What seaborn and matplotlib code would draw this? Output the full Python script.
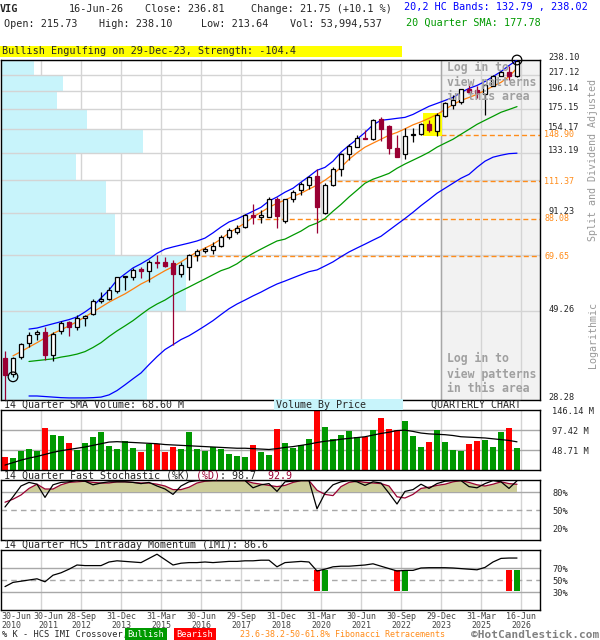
import matplotlib
matplotlib.use("Agg")
import matplotlib.pyplot as plt
from matplotlib.ticker import NullLocator, NullFormatter
from matplotlib.transforms import ScaledTranslation
import numpy as np
import seaborn as sns

# quarterly candles, 30-Jun-2010 .. 16-Jun-2026 (split and dividend adjusted)
opens = [36.8, 33.3, 37.0, 40.4, 42.8, 43.2, 37.6, 43.5, 46.0, 44.7,
         47.4, 48.4, 52.5, 53.3, 56.0, 61.0, 61.2, 64.2, 63.4, 67.3,
         67.3, 66.6, 62.3, 65.0, 70.1, 71.8, 72.4, 74.2, 78.4, 81.2,
         83.4, 90.3, 89.0, 89.3, 99.9, 87.0, 99.9, 105.7, 109.1, 114.8,
         91.1, 108.5, 120.6, 132.3, 138.2, 146.5, 145.2, 164.7, 157.2, 137.5,
         131.8, 148.6, 149.6, 159.3, 152.3, 167.4, 179.2, 182.5, 198.7, 197.0,
         192.9, 202.9, 215.7, 220.3, 215.73]
highs = [38.4, 37.1, 40.5, 43.3, 43.8, 44.6, 43.2, 46.3, 46.3, 48.3,
         48.3, 53.1, 55.7, 57.5, 61.2, 61.5, 64.6, 65.2, 68.0, 70.1,
         69.3, 68.0, 67.3, 70.8, 72.9, 73.6, 76.0, 79.5, 82.9, 84.8,
         90.9, 96.3, 93.3, 100.6, 101.0, 99.9, 105.3, 110.8, 115.4, 119.9,
         109.9, 121.8, 132.6, 140.5, 148.6, 154.0, 164.7, 166.4, 158.9, 148.6,
         155.1, 155.1, 160.0, 163.0, 171.1, 183.5, 190.7, 198.7, 205.1, 202.9,
         205.1, 216.6, 222.7, 228.9, 238.10]
lows = [28.28, 32.7, 36.6, 39.5, 41.3, 36.4, 36.0, 42.7, 42.2, 43.9,
        44.9, 48.3, 52.0, 52.9, 55.4, 56.3, 60.0, 60.7, 59.4, 64.6,
        65.2, 40.0, 61.2, 59.8, 67.7, 71.2, 70.4, 73.9, 77.4, 80.0,
        83.2, 85.2, 85.7, 88.8, 82.9, 85.5, 97.9, 102.0, 106.4, 80.4,
        90.9, 108.2, 115.4, 127.6, 137.7, 144.7, 144.0, 143.1, 131.8, 129.4,
        127.9, 142.0, 148.6, 151.7, 147.5, 166.4, 174.7, 180.9, 194.0, 188.2,
        168.8, 202.0, 214.8, 209.5, 213.64]
closes = [33.0, 36.8, 40.2, 42.6, 43.2, 37.6, 42.7, 45.8, 44.7, 47.3,
          47.8, 52.5, 53.2, 56.3, 61.0, 61.2, 64.0, 63.4, 67.3, 66.6,
          65.6, 62.3, 65.9, 70.1, 72.0, 72.9, 74.2, 78.4, 82.1, 82.9,
          90.3, 89.0, 90.3, 99.4, 89.4, 99.4, 104.2, 109.3, 114.3, 94.9,
          108.7, 119.9, 131.8, 138.8, 145.6, 145.2, 163.0, 154.4, 137.2, 130.0,
          147.7, 150.2, 159.0, 153.3, 169.0, 181.7, 185.3, 198.0, 194.6, 193.9,
          204.1, 215.0, 220.3, 215.06, 236.81]

volume_m = [32.5, 30.0, 46.3, 51.1, 46.3, 102.3, 85.2, 82.8, 65.8, 47.9,
            65.8, 80.4, 92.6, 58.5, 51.1, 70.6, 54.4, 43.8, 63.3, 64.1,
            43.8, 56.0, 51.1, 92.6, 51.1, 47.1, 55.2, 51.1, 39.0, 34.1,
            31.7, 60.9, 43.8, 36.5, 99.9, 65.8, 52.8, 60.9, 76.3, 146.14,
            104.7, 75.5, 85.2, 95.0, 80.4, 80.4, 98.2, 126.7, 99.9, 96.6,
            119.3, 82.8, 56.0, 68.2, 98.2, 68.2, 48.7, 47.1, 63.3, 70.6,
            73.1, 56.0, 92.6, 102.3, 54.0]
vol_sma_m = [12, 18, 24, 29, 33, 38, 43, 47, 50, 53,
             56, 60, 64, 68, 69, 68, 67, 66, 65, 64,
             62, 61, 60, 59, 58, 57, 56, 55, 54, 53,
             53, 52, 51, 50, 52, 55, 57, 60, 63, 67,
             70, 72, 75, 77, 79, 81, 85, 89, 92, 96,
             97, 94, 90, 88, 87, 86, 84, 81, 80, 79,
             78, 76, 74, 72, 68.6]

# 20,2 HC bands and 20 quarter SMA start at the 4th quarter
band_start = 3
band_upper = [44.1, 44.4, 45.0, 45.6, 46.2, 46.8, 47.6, 49.1, 50.9, 53.6,
              56.3, 60.0, 62.3, 64.7, 66.4, 68.4, 70.9, 72.8, 73.8, 74.7,
              75.6, 76.6, 78.0, 80.6, 83.6, 86.3, 87.9, 90.1, 92.3, 94.6,
              98.4, 100.9, 104.0, 106.6, 110.7, 114.8, 119.3, 121.5, 126.3, 133.6,
              139.4, 144.9, 151.2, 158.6, 163.2, 164.1, 165.2, 166.2, 169.3, 173.7,
              178.1, 181.4, 184.8, 188.3, 194.3, 199.3, 203.0, 208.1, 214.6, 221.5,
              230.0, 238.02]
band_lower = [29.0, 29.0, 28.9, 28.8, 28.7, 28.65, 28.65, 28.65, 28.7, 28.8,
              29.2, 30.0, 31.1, 32.3, 33.5, 35.3, 37.1, 38.8, 40.0, 41.3,
              42.3, 43.6, 45.0, 46.5, 48.3, 50.1, 51.6, 52.9, 54.3, 55.6,
              57.1, 58.5, 59.6, 60.8, 62.0, 63.2, 63.9, 65.5, 67.2, 69.4,
              71.5, 73.3, 75.1, 77.0, 78.9, 81.9, 85.0, 88.2, 91.7, 95.6,
              99.3, 103.3, 106.6, 110.0, 113.5, 116.3, 121.5, 126.3, 129.5, 131.1,
              132.4, 132.79]
sma20 = [36.0, 36.2, 36.4, 36.6, 37.0, 37.3, 37.7, 38.3, 39.3, 40.5,
         42.1, 43.6, 45.0, 46.5, 48.3, 50.1, 51.6, 52.9, 54.6, 56.0,
         57.4, 58.9, 60.4, 62.0, 63.6, 64.7, 66.4, 68.8, 70.9, 72.8,
         74.7, 76.6, 77.5, 79.5, 81.5, 84.1, 85.7, 88.2, 92.3, 96.3,
         100.9, 105.3, 110.0, 112.8, 114.8, 117.0, 120.8, 124.1, 127.1, 130.2,
         133.6, 137.9, 141.4, 144.9, 149.5, 154.2, 159.1, 163.2, 167.3, 171.6,
         174.6, 177.78]
# short average (orange) starts at the 2nd quarter
ma_start = 1
ma_short = [37.3, 38.3, 39.4, 40.5, 41.7, 42.9, 43.9, 45.0, 46.2, 47.6,
            49.1, 50.6, 52.2, 53.6, 55.0, 56.7, 58.5, 60.0, 61.8, 63.6,
            65.2, 67.2, 69.4, 71.5, 73.3, 75.1, 77.5, 80.6, 83.1, 85.7,
            89.0, 91.7, 94.6, 97.0, 99.0, 101.3, 103.3, 106.0, 108.7, 112.1,
            116.3, 121.5, 127.8, 133.1, 137.9, 141.4, 144.9, 148.6, 151.2, 154.7,
            158.6, 161.6, 165.2, 169.3, 174.6, 180.1, 184.8, 188.3, 192.0, 196.8,
            201.9, 207.0, 214.6, 226.5]

stoch_k = [55, 72, 90, 96, 93, 71, 92, 96, 97, 99,
           98, 92, 95, 97, 97, 97, 96, 94, 96, 90,
           85, 76, 90, 97, 99, 99, 99, 99, 99, 99,
           99, 87, 92, 94, 81, 97, 98, 99, 99, 52,
           78, 92, 97, 99, 97, 91, 97, 95, 78, 60,
           81, 84, 93, 86, 94, 98, 99, 99, 89, 87,
           94, 99, 97, 86, 98.7]
stoch_d = [63, 68, 75, 86, 93, 85, 85, 92, 96, 97,
           98, 96, 95, 95, 97, 97, 96, 95, 95, 93,
           90, 84, 84, 88, 95, 98, 99, 99, 99, 99,
           99, 95, 93, 91, 89, 91, 96, 99, 99, 83,
           76, 74, 89, 96, 98, 96, 95, 94, 90, 72,
           70, 76, 86, 88, 91, 93, 97, 99, 96, 92,
           90, 93, 97, 94, 92.9]
imi = [39, 46, 48, 50, 52, 47, 58, 62, 68, 75,
       74, 74, 74, 80, 82, 81, 80, 79, 86, 93,
       84, 75, 78, 79, 79, 80, 79, 80, 81, 81,
       82, 82, 83, 83, 72, 79, 80, 81, 80, 65,
       68, 72, 73, 73, 74, 75, 77, 73, 69, 65,
       66, 66, 70, 70.5, 70.5, 70.5, 70, 69, 68, 67,
       71, 80, 86, 86.6, 86.6]
imi_cross_q = [39, 40, 49, 50, 63, 64]
imi_cross_kind = ['bear', 'bull', 'bear', 'bull', 'bear', 'bull']

price_levels = [28.28, 49.26, 70.25, 91.23, 112.21, 133.19, 154.17, 175.15, 196.14, 217.12, 238.10]
price_labels = ['28.28', '49.26', '', '91.23', '', '133.19', '154.17', '175.15', '196.14', '217.12', '238.10']
# volume by price, one value per band between price levels (bottom to top), relative
vbp_rel = [78.9, 100.0, 61.6, 56.8, 40.5, 76.8, 46.5, 30.3, 33.5, 17.8]

fib_levels = [69.65, 88.08, 111.37, 148.90]
fib_start_q = [23.5, 31.5, 40.5, 54.5]
pattern_q = [53, 54]
login_from_q = 54.5

tick_q = [0, 4, 9, 14, 19, 24, 29, 34, 39, 44, 49, 54, 59, 64]
tick_labels = ['30-Jun\n2010', '30-Jun\n2011', '28-Sep\n2012', '31-Dec\n2013', '31-Mar\n2015',
               '30-Jun\n2016', '29-Sep\n2017', '31-Dec\n2018', '31-Mar\n2020', '30-Jun\n2021',
               '30-Sep\n2022', '29-Dec\n2023', '31-Mar\n2025', '16-Jun\n2026']

# ---------------------------------------------------------------
sns.set_style("white")
plt.rcParams['font.family'] = ['DejaVu Sans Mono']
plt.rcParams['axes.linewidth'] = 1.0

RED = '#990033'
GRID = '#d4d4d4'
ORANGE = '#ff8c1a'

W, H = 600, 640
fig = plt.figure(figsize=(W / 100, H / 100), dpi=100)


def box(x0, y0, x1, y1):
    return [x0 / W, 1 - y1 / H, (x1 - x0) / W, (y1 - y0) / H]


def ftext(x, y, s, **kw):
    kw.setdefault('fontsize', 7.3)
    kw.setdefault('va', 'center')
    return fig.text(x / W, 1 - y / H, s, **kw)


n = len(closes)
q = np.arange(n)
XL = (-0.5, 66.875)
grid_x = [t + 0.5 for t in tick_q[1:]]
up = [c >= o for o, c in zip(opens, closes)]

ax = fig.add_axes(box(1, 60, 540, 400))
axv = fig.add_axes(box(1, 410, 540, 470))
axs = fig.add_axes(box(1, 480, 540, 540))
axi = fig.add_axes(box(1, 550, 540, 610))

# ---- main price panel ----
ax.set_yscale('log')
ax.set_xlim(*XL)
ax.set_ylim(price_levels[0], price_levels[-1])
ax.axvspan(login_from_q, XL[1], color='#f2f2f2', lw=0, zorder=0.2)
for gx in grid_x:
    ax.axvline(gx, color=GRID, lw=1, zorder=0.5)
span = XL[1] - XL[0]
ax.barh(price_levels[:-1], [v / 100 * 0.343 * span for v in vbp_rel],
        height=np.diff(price_levels), left=XL[0], align='edge',
        color='#c8f4fb', lw=0, zorder=1)
for lv in price_levels:
    ax.axhline(lv, color=GRID, lw=1, zorder=1.5)
ax.axvline(login_from_q, color='#a8a8a8', lw=1, zorder=1.6)

for lv, st in zip(fib_levels, fib_start_q):
    ax.hlines(lv, st, XL[1], colors=ORANGE, linestyles=(0, (3.6, 2.2)), lw=1, zorder=2)
    ax.text(1.0075, lv, f"{lv:.2f}", transform=ax.get_yaxis_transform(), color=ORANGE,
            fontsize=6.0, va='center', ha='left', clip_on=False)

p_lo = min(lows[i] for i in pattern_q)
p_hi = max(highs[i] for i in pattern_q)
ax.fill_between([pattern_q[0] - 0.75, pattern_q[-1] + 0.62], p_lo, p_hi,
                color='#ffff00', lw=0, zorder=2.5)

sns.lineplot(x=q[band_start:], y=band_upper, color='#0000ff', lw=0.9, ax=ax, zorder=2.6)
sns.lineplot(x=q[band_start:], y=band_lower, color='#0000ff', lw=0.9, ax=ax, zorder=2.6)
sns.lineplot(x=q[band_start:], y=sma20, color='#009900', lw=0.9, ax=ax, zorder=2.6)
sns.lineplot(x=q[ma_start:], y=ma_short, color='#ff7f0e', lw=0.9, ax=ax, zorder=2.7)

bottoms = [min(o, c) for o, c in zip(opens, closes)]
heights = [max(abs(c - o), min(o, c) * 0.007) for o, c in zip(opens, closes)]
ax.vlines(q, lows, highs, colors=['k' if u else RED for u in up], lw=0.9, zorder=3)
ax.bar(q, heights, bottom=bottoms, width=0.62,
       color=['white' if u else RED for u in up],
       edgecolor=['k' if u else RED for u in up], lw=0.9, zorder=4)

lo_q = int(np.argmin(lows[1:])) + 1
hi_q = int(np.argmax(highs))
ax.scatter([lo_q, hi_q], [lows[lo_q], highs[hi_q]], s=48, facecolors='none',
           edgecolors='k', lw=0.9, zorder=5, clip_on=False)

for yy, s in zip([67, 82, 97, 358, 374, 389],
                 ['Log in to', 'view patterns', 'in this area'] * 2):
    ax.text((447 - 1) / 539, (400 - yy) / 340, s, transform=ax.transAxes, color='#a0a0a0',
            fontsize=8.3, fontweight='bold', va='center', ha='left', zorder=6)

ax.set_xticks([])
ax.yaxis.set_minor_locator(NullLocator())
ax.yaxis.set_minor_formatter(NullFormatter())
ax.set_yticks(price_levels)
ax.set_yticklabels(price_labels)
ax.yaxis.tick_right()
ax.tick_params(axis='y', length=0, pad=6, labelsize=6.2)
lift = ScaledTranslation(0, 3 / 100, fig.dpi_scale_trans)
for lbl in ax.get_yticklabels():
    lbl.set_transform(lbl.get_transform() + lift)
ax.set_xlabel('')
ax.set_ylabel('')

# ---- volume panel ----
sns.barplot(x=q, y=volume_m, hue=['up' if u else 'down' for u in up],
            palette={'up': '#009900', 'down': '#ff0000'}, native_scale=True,
            dodge=False, width=0.72, saturation=1, errorbar=None, legend=False,
            linewidth=0, ax=axv)
sns.lineplot(x=q, y=vol_sma_m, color='k', lw=0.9, ax=axv)
for lv in [48.71, 97.42]:
    axv.axhline(lv, color='#a8a8a8', lw=1, zorder=0.5)
axv.set_ylim(0, 146.14)
axv.set_yticks([146.14, 97.42, 48.71])
axv.set_yticklabels(['146.14 M', '97.42 M', '48.71 M'])

# ---- stochastic panel ----
dd = np.array(stoch_d, dtype=float)
axs.fill_between(q, 80, dd, where=dd > 80, interpolate=True, color='#cccc99', lw=0, zorder=1)
sns.lineplot(x=q, y=stoch_d, color=RED, lw=0.9, ax=axs)
sns.lineplot(x=q, y=stoch_k, color='k', lw=0.9, ax=axs)
axs.axhline(80, color='#a8a8a8', lw=1, zorder=0.5)
axs.axhline(50, color='#a8a8a8', lw=1, ls=(0, (4, 3)), zorder=0.5)
axs.axhline(20, color='#a8a8a8', lw=1, zorder=0.5)
axs.set_ylim(0, 100)
axs.set_yticks([80, 50, 20])
axs.set_yticklabels(['80%', '50%', '20%'])

# ---- IMI panel ----
for qq, kind in zip(imi_cross_q, imi_cross_kind):
    axi.bar(qq, 35, bottom=32, width=0.72, lw=0,
            color='#009900' if kind == 'bull' else '#ff0000', zorder=2)
sns.lineplot(x=q, y=imi, color='k', lw=0.9, ax=axi)
axi.axhline(70, color='#a8a8a8', lw=1, zorder=0.5)
axi.axhline(50, color='#a8a8a8', lw=1, ls=(0, (4, 3)), zorder=0.5)
axi.axhline(30, color='#a8a8a8', lw=1, zorder=0.5)
axi.set_ylim(0, 100)
axi.set_yticks([70, 50, 30])
axi.set_yticklabels(['70%', '50%', '30%'])

for a in (axv, axs, axi):
    a.set_xlim(*XL)
    for gx in grid_x:
        a.axvline(gx, color=GRID, lw=1, zorder=0.4)
    a.yaxis.tick_right()
    a.tick_params(axis='y', length=0, pad=9, labelsize=6.2)
    a.set_xlabel('')
    a.set_ylabel('')
    a.set_xticks([])

for a in (ax, axv, axs, axi):
    for sp in a.spines.values():
        sp.set_color('k')
        sp.set_linewidth(1)

tick_pos = [XL[0], tick_q[1] + 1.4] + [t + 0.5 for t in tick_q[2:]]
axi.set_xticks(tick_pos)
axi.set_xticklabels(tick_labels, linespacing=0.95)
axi.tick_params(axis='x', length=0, pad=1.5, labelsize=6.0, labelcolor='#444444')
axi.get_xticklabels()[0].set_ha('left')

# ---- header ----
ftext(0, 9.5, 'VIG', fontweight='bold')
ftext(69, 9.5, '16-Jun-26')
ftext(145, 9.5, 'Close: 236.81')
ftext(251, 9.5, 'Change: 21.75 (+10.1 %)')
ftext(404, 7, '20,2 HC Bands: 132.79 , 238.02', color='#0000ff')
ftext(4.5, 24, 'Open: 215.73')
ftext(99, 24, 'High: 238.10')
ftext(201, 24, 'Low: 213.64')
ftext(290, 24, 'Vol: 53,994,537')
ftext(406, 22.5, '20 Quarter SMA: 177.78', color='#009900')
fig.patches.append(plt.Rectangle((0, 1 - 57 / H), 402 / W, 11 / H, transform=fig.transFigure,
                                 color='#ffff00', lw=0))
ftext(2, 51.5, 'Bullish Engulfing on 29-Dec-23, Strength: -104.4')

# right side captions
ftext(593, 160, 'Split and Dividend Adjusted', rotation=90, ha='center', color='#999999', fontsize=7.2)
ftext(593, 335, 'Logarithmic', rotation=90, ha='center', color='#999999', fontsize=7.2)

# ---- panel titles ----
ftext(4, 404.5, '14 Quarter SMA Volume: 68.60 M', fontsize=7.2)
fig.patches.append(plt.Rectangle((274 / W, 1 - 410 / H), 129 / W, 11 / H, transform=fig.transFigure,
                                 color='#c8f4fb', lw=0))
ftext(276, 404.5, 'Volume By Price', fontsize=7.2)
ftext(431, 404.5, 'QUARTERLY CHART', fontsize=7.2)

stoch_title = '14 Quarter Fast Stochastic (%K) (%D): 98.7  92.9'
red_part = ''.join(ch if (32 <= i <= 35 or i >= 44) else ' ' for i, ch in enumerate(stoch_title))
blk_part = ''.join(' ' if (32 <= i <= 35 or i >= 44) else ch for i, ch in enumerate(stoch_title))
ftext(4, 475, blk_part, fontsize=7.2)
ftext(4, 475, red_part, fontsize=7.2, color=RED)
ftext(4, 545, '14 Quarter HCS Intraday Momentum (IMI): 86.6', fontsize=7.2)

# ---- footer ----
ftext(2, 634.5, '% K - HCS IMI Crossover,', fontsize=6.2)
ftext(146, 634.5, 'Bullish', fontsize=6.2, color='white', ha='center',
      bbox=dict(boxstyle='square,pad=0.25', fc='#009900', ec='none'))
ftext(195, 634.5, 'Bearish', fontsize=6.2, color='white', ha='center',
      bbox=dict(boxstyle='square,pad=0.25', fc='#ff0000', ec='none'))
ftext(240, 634.5, '23.6-38.2-50-61.8% Fibonacci Retracements', fontsize=6.0, color=ORANGE)
ftext(599, 635, '\u00a9HotCandlestick.com', fontsize=8.0, fontweight='bold', color='#808080', ha='right')

fig.savefig('out.png', dpi=100)
